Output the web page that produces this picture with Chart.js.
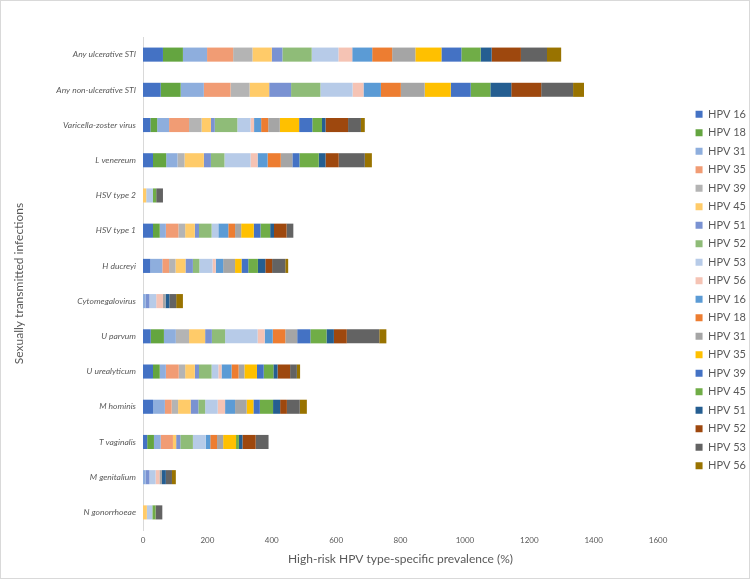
<!DOCTYPE html>
<html>
<head>
<meta charset="utf-8">
<script src="https://cdn.jsdelivr.net/npm/chart.js@4"></script>
<style>
  html, body { margin: 0; padding: 0; background: #fff; }
  #wrap { position: relative; width: 750px; height: 579px; }
</style>
</head>
<body>
<div id="wrap"><canvas id="stiChart"></canvas></div>
<script>
const categories = ['Any ulcerative STI', 'Any non-ulcerative STI', 'Varicella-zoster virus', 'L venereum',
  'HSV type 2', 'HSV type 1', 'H ducreyi', 'Cytomegalovirus', 'U parvum', 'U urealyticum',
  'M hominis', 'T vaginalis', 'M genitalium', 'N gonorrhoeae'];

const xTicks = [0, 200, 400, 600, 800, 1000, 1200, 1400, 1600];

// first set of types
const hpv16 = [62, 55, 23, 31, 0, 31, 23, 0, 24, 31, 31, 13, 0, 0];
const hpv18 = [62, 62, 21, 41, 0, 21, 0, 0, 41, 21, 0, 21, 0, 0];
const hpv31 = [75, 72, 37, 35, 0, 19, 37, 8, 37, 19, 37, 21, 8, 0];
const hpv35 = [81, 83, 62, 0, 0, 39, 21, 0, 0, 40, 21, 38, 0, 0];
const hpv39 = [60, 59, 39, 22, 0, 21, 20, 0, 41, 20, 20, 0, 0, 0];
const hpv45 = [60, 61, 29, 60, 10, 30, 31, 0, 50, 30, 39, 10, 0, 12];
const hpv51 = [33, 68, 12, 22, 0, 13, 23, 12, 21, 13, 24, 13, 12, 0];
const hpv52 = [91, 91, 70, 42, 0, 39, 20, 0, 41, 39, 21, 39, 0, 0];
const hpv53 = [83, 100, 41, 81, 21, 21, 41, 21, 101, 21, 39, 40, 19, 17];
const hpv56 = [43, 34, 11, 22, 0, 0, 10, 21, 22, 10, 23, 0, 12, 0];

// second set of types
const hpv16b = [62, 54, 22, 31, 0, 31, 23, 0, 25, 31, 31, 14, 0, 0];
const hpv18b = [62, 62, 22, 41, 0, 21, 0, 0, 39, 22, 0, 21, 0, 0];
const hpv31b = [72, 74, 36, 36, 0, 19, 37, 8, 37, 18, 36, 19, 8, 0];
const hpv35b = [81, 81, 60, 0, 0, 39, 20, 0, 0, 39, 21, 40, 0, 0];
const hpv39b = [62, 62, 41, 22, 0, 21, 21, 0, 41, 21, 20, 0, 0, 0];
const hpv45b = [60, 61, 30, 60, 10, 30, 30, 0, 50, 30, 41, 9, 0, 10];
const hpv51b = [34, 65, 11, 21, 0, 12, 23, 12, 23, 13, 22, 11, 12, 0];
const hpv52b = [91, 93, 70, 41, 0, 39, 21, 0, 40, 39, 21, 41, 0, 0];
const hpv53b = [81, 99, 40, 81, 21, 21, 41, 21, 101, 21, 40, 40, 19, 21];
const hpv56b = [44, 34, 12, 22, 0, 0, 9, 21, 22, 10, 22, 0, 12, 0];

const seriesLabels = ['HPV 16', 'HPV 18', 'HPV 31', 'HPV 35', 'HPV 39', 'HPV 45', 'HPV 51', 'HPV 52', 'HPV 53', 'HPV 56',
  'HPV 16', 'HPV 18', 'HPV 31', 'HPV 35', 'HPV 39', 'HPV 45', 'HPV 51', 'HPV 52', 'HPV 53', 'HPV 56'];
const seriesData = [hpv16, hpv18, hpv31, hpv35, hpv39, hpv45, hpv51, hpv52, hpv53, hpv56,
  hpv16b, hpv18b, hpv31b, hpv35b, hpv39b, hpv45b, hpv51b, hpv52b, hpv53b, hpv56b];
const colors = ['#4472C4', '#64A540', '#8EAEDD', '#F19C74', '#B4B4B4', '#FFCB69', '#7A92D2', '#8FBC78', '#B7CBE8', '#F5C3B4',
  '#5B9BD5', '#ED7D31', '#A5A5A5', '#FFC000', '#4472C4', '#70AD47', '#255E91', '#9E480E', '#636363', '#997300'];

const FONT = "Lato, 'Liberation Sans', sans-serif";
const GREY = '#595959';

const frame = {
  id: 'frame',
  afterDraw(chart) {
    const c = chart.ctx;
    c.save();
    c.strokeStyle = '#D9D9D9';
    c.lineWidth = 1;
    c.strokeRect(0.5, 0.5, chart.width - 1, chart.height - 1);
    c.restore();
  }
};

// empty axes used only as spacers around the plot
const spacer = (pos, size) => ({
  type: 'linear',
  axis: pos === 'top' ? 'x' : 'y',
  position: pos,
  display: true,
  grid: { display: false, drawTicks: false },
  border: { display: false },
  ticks: { display: false },
  afterFit(scale) {
    if (pos === 'top') scale.height = size; else scale.width = size;
  }
});

const ctx = document.getElementById('stiChart').getContext('2d');
const stiChart = new Chart(ctx, {
  type: 'bar',
  data: {
    labels: categories,
    datasets: seriesData.map((d, i) => ({
      label: seriesLabels[i],
      data: d,
      backgroundColor: colors[i],
      borderWidth: 0,
      barPercentage: 0.8,
      categoryPercentage: 0.5
    }))
  },
  options: {
    indexAxis: 'y',
    responsive: true,
    maintainAspectRatio: false,
    animation: false,
    layout: {
      padding: { top: 14, left: 8, right: -6, bottom: 13 }
    },
    plugins: {
      tooltip: { enabled: false },
      legend: {
        position: 'right',
        labels: {
          boxWidth: 7,
          boxHeight: 7,
          padding: 7.5,
          color: GREY,
          font: { family: FONT, size: 11 }
        }
      }
    },
    scales: {
      x: {
        stacked: true,
        min: 0,
        max: 1600,
        afterBuildTicks(scale) {
          scale.ticks = xTicks.map(v => ({ value: v }));
        },
        afterFit(scale) { scale.height = 36; },
        grid: { display: false, drawTicks: false },
        border: { display: false },
        ticks: {
          color: GREY,
          font: { family: FONT, size: 8 },
          padding: 6,
          maxRotation: 0,
          callback: v => String(v)
        },
        title: {
          display: true,
          text: 'High-risk HPV type-specific prevalence (%)',
          color: GREY,
          font: { family: FONT, size: 12 },
          padding: { top: 6, bottom: 0 }
        }
      },
      y: {
        stacked: true,
        afterFit(scale) { scale.width = 135; },
        grid: { display: false, drawTicks: false },
        border: { display: true, color: '#D9D9D9' },
        ticks: { color: GREY, font: { family: FONT, size: 8.5, style: 'italic' }, padding: 7 },
        title: {
          display: true,
          text: 'Sexually transmitted infections',
          color: GREY,
          font: { family: FONT, size: 12 },
          padding: { top: 4, bottom: 0 }
        }
      },
      padTop: spacer('top', 23),
      padRight: spacer('right', 30)
    }
  },
  plugins: [frame]
});
</script>
</body>
</html>
